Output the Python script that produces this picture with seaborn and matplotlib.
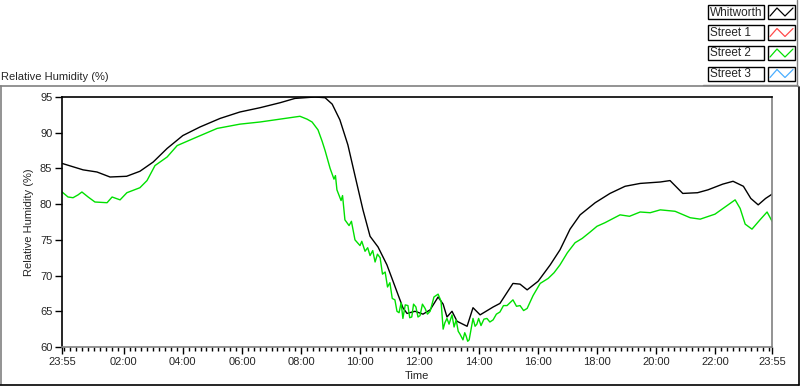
import matplotlib
matplotlib.use("Agg")
import matplotlib.pyplot as plt
from matplotlib.lines import Line2D
from matplotlib.patches import Rectangle
import numpy as np
import pandas as pd
import seaborn as sns

W, H = 800, 386

# time in hours of the day (23:55 of the previous day = -5/60)
whitworth_t = [-0.08, 0.63, 1.1, 1.54, 2.1, 2.55, 3.0, 3.47, 4.0, 4.58, 5.26, 5.93, 6.61, 7.29,
               7.79, 8.47, 8.81, 9.05, 9.31, 9.58, 9.82, 10.09, 10.33, 10.6, 10.9, 11.17, 11.44,
               11.58, 11.85, 12.12, 12.36, 12.63, 12.8, 12.93, 13.1, 13.27, 13.61, 13.81, 14.05,
               14.49, 14.72, 15.16, 15.4, 15.64, 16.01, 16.42, 16.75, 17.09, 17.43, 17.94, 18.44,
               18.95, 19.46, 20.14, 20.47, 20.9, 21.4, 21.75, 22.25, 22.6, 22.95, 23.2, 23.45,
               23.7, 23.92]
whitworth_rh = [85.7, 84.8, 84.5, 83.8, 83.9, 84.6, 85.9, 87.8, 89.6, 90.8, 92.0, 92.9, 93.5, 94.2,
                94.8, 95.0, 94.9, 94.0, 91.8, 88.3, 84.0, 79.2, 75.5, 74.0, 71.5, 68.5, 65.5,
                64.7, 65.0, 64.6, 65.2, 67.0, 66.0, 64.2, 65.0, 63.6, 62.9, 65.5, 64.5,
                65.6, 66.1, 68.9, 68.8, 68.0, 69.2, 71.5, 73.6, 76.5, 78.5, 80.2, 81.5,
                82.5, 82.9, 83.1, 83.3, 81.5, 81.6, 82.0, 82.8, 83.2, 82.5, 80.8, 79.9,
                80.8, 81.4]

street2_t = [-0.08, 0.12, 0.29, 0.46, 0.59, 0.8, 1.03, 1.44, 1.61, 1.74, 1.88, 2.11, 2.55, 2.79,
             3.06, 3.47, 3.81, 4.48, 5.16, 5.93, 6.61, 7.63, 7.96, 8.2, 8.37, 8.57, 8.71, 8.81,
             8.98, 9.11, 9.16, 9.21, 9.35, 9.4, 9.48, 9.62, 9.7, 9.82, 9.99, 10.05, 10.16, 10.25,
             10.33, 10.42, 10.5, 10.58, 10.67, 10.75, 10.84, 10.92,
             11.0, 11.08, 11.17, 11.24, 11.31, 11.38, 11.44, 11.52, 11.61, 11.67, 11.74, 11.8,
             11.88, 11.95, 12.02, 12.1, 12.19, 12.27, 12.36, 12.49, 12.63,
             12.73, 12.8, 12.86, 12.93, 13.0, 13.1, 13.17, 13.24, 13.31, 13.37, 13.47, 13.53,
             13.58, 13.63, 13.68, 13.75, 13.81, 13.88, 13.94, 14.0, 14.08, 14.18,
             14.28, 14.38, 14.49, 14.6, 14.72, 14.84, 14.96, 15.06, 15.16, 15.28, 15.4, 15.52,
             15.64, 15.84, 16.08, 16.35, 16.55, 16.75, 17.0, 17.26, 17.5,
             17.77, 18.0, 18.27, 18.5, 18.78, 19.1, 19.46, 19.8, 20.14, 20.64, 21.15, 21.49,
             21.99, 22.43, 22.67, 22.84, 23.01, 23.24, 23.51, 23.75, 23.92]
street2_rh = [81.7, 81.0, 80.9, 81.3, 81.7, 81.0, 80.3, 80.2, 81.0, 80.8, 80.6, 81.6, 82.3, 83.3,
              85.4, 86.6, 88.2, 89.4, 90.6, 91.2, 91.5, 92.1, 92.3, 91.9, 91.5, 90.4, 88.8, 87.5,
              85.0, 83.5, 84.0, 82.0, 80.5, 81.2, 77.8, 77.0, 77.6, 75.0, 74.2, 74.8, 73.4, 73.9,
              72.8, 73.5, 71.9, 73.0, 72.5, 70.2, 70.5, 68.4,
              69.0, 66.8, 66.6, 65.0, 64.8, 66.2, 64.0, 65.9, 65.8, 64.1, 64.2, 66.0,
              65.6, 64.2, 64.4, 66.0, 65.4, 64.6, 65.0, 67.0, 67.4,
              66.4, 62.5, 63.4, 64.0, 63.2, 64.5, 62.8, 63.8, 62.2, 61.8, 61.0, 62.0,
              61.5, 60.8, 61.0, 62.6, 64.0, 62.9, 63.2, 64.0, 63.0, 63.9,
              64.0, 63.5, 63.8, 64.6, 64.9, 65.8, 65.8, 66.2, 66.6, 65.7, 65.8, 65.1,
              65.4, 67.2, 68.9, 69.6, 70.4, 71.5, 73.2, 74.6, 75.2,
              76.1, 76.9, 77.4, 77.9, 78.5, 78.3, 78.9, 78.8, 79.2, 79.0, 78.1, 77.9,
              78.6, 79.9, 80.6, 79.4, 77.2, 76.5, 77.8, 78.9, 77.6]

legend_names = ["Whitworth", "Street 1", "Street 2", "Street 3"]
legend_colors = ["#000000", "#ff4a4a", "#00e000", "#4aaeff"]

x_ticks = [-5 / 60, 2, 4, 6, 8, 10, 12, 14, 16, 18, 20, 22, 23 + 55 / 60]
x_labels = ["23:55", "02:00", "04:00", "06:00", "08:00", "10:00", "12:00", "14:00",
            "16:00", "18:00", "20:00", "22:00", "23:55"]
y_ticks = [60, 65, 70, 75, 80, 85, 90, 95]

df = pd.concat([
    pd.DataFrame({"time": whitworth_t, "rh": whitworth_rh, "site": "Whitworth"}),
    pd.DataFrame({"time": street2_t, "rh": street2_rh, "site": "Street 2"}),
])

sns.set_style("white")
plt.rcParams["font.family"] = ["Liberation Sans", "DejaVu Sans"]
FS = 8


def px(x, y):
    return x / W, 1 - y / H


fig = plt.figure(figsize=(W / 100, H / 100), dpi=100)
ax = fig.add_axes([62 / W, 1 - 347 / H, (772 - 62) / W, (347 - 97) / H])

sns.lineplot(data=df, x="time", y="rh", hue="site", sort=False,
             palette={"Whitworth": "#000000", "Street 2": "#00e000"},
             linewidth=1.0, legend=False, ax=ax)

ax.set_xlim(x_ticks[0], x_ticks[-1])
ax.set_ylim(60, 95)
ax.set_xticks(x_ticks)
ax.set_xticklabels(x_labels, fontsize=FS)
ax.set_xticks(np.arange(0, 24, 0.2), minor=True)
ax.set_yticks(y_ticks)
ax.set_yticklabels([str(v) for v in y_ticks], fontsize=FS)
ax.tick_params(axis="both", which="major", direction="out", length=5, width=1,
               color="black", pad=2, bottom=True, left=True)
ax.tick_params(axis="x", which="minor", direction="out", length=3, width=1,
               color="black", bottom=True)
ax.set_xlabel("Time", fontsize=FS, labelpad=3)
ax.set_ylabel("Relative Humidity (%)", fontsize=FS, labelpad=4)
ax.grid(False)
for side in ["left", "top"]:
    ax.spines[side].set_color("black")
    ax.spines[side].set_linewidth(1.2)
for side in ["right", "bottom"]:
    ax.spines[side].set_color("#808080")
    ax.spines[side].set_linewidth(1.2)

# outer panel frame
fig.add_artist(Line2D([px(0.5, 0)[0]] * 2, [px(0, 86)[1], px(0, 384)[1]], color="#808080", lw=1.2))
fig.add_artist(Line2D([px(0, 0)[0], px(798, 0)[0]], [px(0, 86)[1]] * 2, color="#808080", lw=1.2))
fig.add_artist(Line2D([px(798.5, 0)[0]] * 2, [px(0, 87)[1], px(0, 385)[1]], color="black", lw=1.2))
fig.add_artist(Line2D([px(0, 0)[0], px(799, 0)[0]], [px(0, 384.5)[1]] * 2, color="black", lw=1.2))
fig.text(*px(1, 77), "Relative Humidity (%)", fontsize=FS, ha="left", va="center")

# legend panel
fig.add_artist(Line2D([px(797, 0)[0]] * 2, [px(0, 0)[1], px(0, 86)[1]], color="#808080", lw=1.0))
fig.add_artist(Line2D([px(703, 0)[0], px(797, 0)[0]], [px(0, 85)[1]] * 2, color="#808080", lw=1.0))
for i, (name, col) in enumerate(zip(legend_names, legend_colors)):
    top = 5 + 20.5 * i
    x0, y0 = px(708, top + 14)
    fig.add_artist(Rectangle((x0, y0), 56 / W, 14 / H, transform=fig.transFigure,
                             facecolor="white", edgecolor="black", lw=1.0))
    fig.text(*px(710, top + 7.5), name, fontsize=8.5, ha="left", va="center")
    x1, y1 = px(768, top + 14)
    fig.add_artist(Rectangle((x1, y1), 27 / W, 14 / H, transform=fig.transFigure,
                             facecolor="white", edgecolor="black", lw=1.0))
    zx = [770, 777, 785, 793]
    zy = [top + 11, top + 3, top + 11, top + 3]
    fig.add_artist(Line2D([px(a, 0)[0] for a in zx], [px(0, b)[1] for b in zy],
                          color=col, lw=0.9))

fig.savefig("out.png", dpi=100, facecolor="white")
